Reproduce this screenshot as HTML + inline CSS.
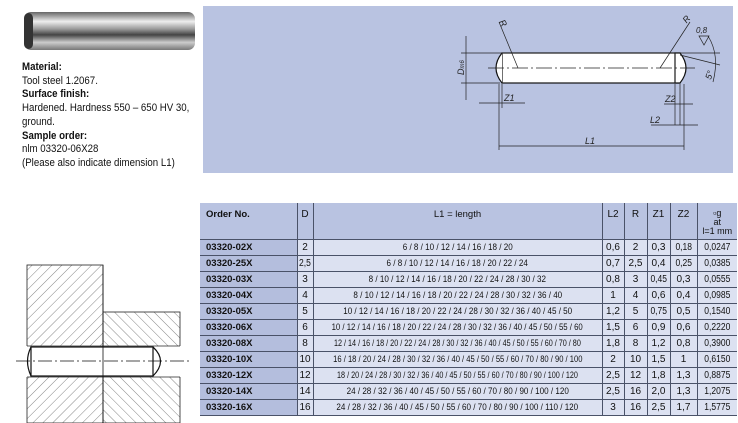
<!DOCTYPE html>
<html><head><meta charset="utf-8"><style>
body{margin:0;width:738px;height:423px;background:#fff;position:relative;overflow:hidden;font-family:"Liberation Sans",sans-serif;}
.txt{position:absolute;left:22px;top:61px;font-size:11px;line-height:13.7px;color:#111;transform:scaleX(.88);transform-origin:0 0;white-space:nowrap;}
.panel{position:absolute;left:203px;top:6px;width:530px;height:167px;background:#b9c3e1;}
table{position:absolute;left:200px;top:203px;width:537px;border-collapse:collapse;font-family:"Liberation Sans",sans-serif;font-size:10px;color:#111;table-layout:fixed;}
td{padding:0;height:15px;border-top:1px solid #4a5268;border-left:1px solid #4a5268;text-align:center;background:#dce1f1;white-space:nowrap;overflow:visible;}
td span{display:inline-block;transform:scaleX(.85);margin:0 -80px;}
td:first-child{border-left:none;background:#b4bedd;text-align:left;padding-left:6px;font-weight:bold;font-size:9.5px;}
td:nth-child(3){font-size:9.5px;}
tr.h td{height:30px;border-top:none;background:#b9c3e1;vertical-align:top;padding-top:6px;}
tr:last-child td{border-bottom:1px solid #4a5268;}
</style></head><body>
<svg style="position:absolute;left:0;top:0" width="738" height="423">
<defs>
<linearGradient id="g" x1="0" y1="0" x2="0" y2="1"><stop offset="0" stop-color="#666"/><stop offset=".25" stop-color="#eee"/><stop offset=".45" stop-color="#999"/><stop offset=".6" stop-color="#444"/><stop offset=".8" stop-color="#ccc"/><stop offset="1" stop-color="#777"/></linearGradient>
<pattern id="h1" width="7" height="7" patternUnits="userSpaceOnUse" patternTransform="rotate(45)"><line x1="0" y1="0" x2="0" y2="7" stroke="#333" stroke-width=".6"/></pattern>
<pattern id="h2" width="7" height="7" patternUnits="userSpaceOnUse" patternTransform="rotate(-45)"><line x1="0" y1="0" x2="0" y2="7" stroke="#333" stroke-width=".6"/></pattern>
</defs>
<rect x="24" y="12" width="171" height="38" rx="7" fill="url(#g)"/>
<rect x="24" y="13" width="9" height="36" rx="5" fill="#333"/>
<rect x="27" y="265" width="76" height="158" fill="url(#h1)" stroke="#222" stroke-width=".8"/>
<rect x="103" y="312" width="77" height="111" fill="url(#h2)" stroke="#222" stroke-width=".8"/>
<rect x="26" y="346" width="155" height="31" fill="#fff"/>
<line x1="27" y1="346" x2="180" y2="346" stroke="#222" stroke-width=".8"/>
<line x1="27" y1="377" x2="180" y2="377" stroke="#222" stroke-width=".8"/>
<rect x="31" y="347" width="122" height="29" fill="none" stroke="#111" stroke-width="1.2"/>
<path d="M31 347 Q24 361 31 376" fill="none" stroke="#111" stroke-width="1.2"/>
<path d="M153 347 Q168 361 153 376" fill="none" stroke="#111" stroke-width="1.2"/>
<line x1="16" y1="361" x2="190" y2="361" stroke="#111" stroke-width=".8" stroke-dasharray="14,3,2,3"/>
<line x1="103" y1="265" x2="103" y2="423" stroke="#111" stroke-width=".8"/>
</svg>
<div class="panel"></div>
<svg style="position:absolute;left:0;top:0" width="738" height="423" font-family="Liberation Sans" font-style="italic" font-size="9" fill="#222">
<g stroke="#222" stroke-width=".7" fill="none">
<rect x="502" y="53" width="178" height="30" fill="#fff" stroke="#111" stroke-width="1.2"/>
<path d="M502 53 Q490 68 502 83" fill="#fff" stroke="#111" stroke-width="1.2"/>
<path d="M675 53 L680 53 Q692 68 680 83 L675 83 Z" fill="#fff" stroke="#111" stroke-width="1.2"/>
<line x1="675" y1="53" x2="675" y2="83"/>
<line x1="488" y1="68" x2="695" y2="68" stroke-dasharray="16,3,2,3"/>
<line x1="461" y1="53" x2="720" y2="53"/>
<line x1="461" y1="83" x2="500" y2="83"/>
<line x1="466" y1="36" x2="466" y2="100"/>
<line x1="499" y1="84" x2="499" y2="150"/>
<line x1="502" y1="84" x2="502" y2="108"/>
<line x1="479" y1="103" x2="525" y2="103"/>
<line x1="675" y1="84" x2="675" y2="125"/>
<line x1="680" y1="84" x2="680" y2="125"/>
<line x1="684" y1="84" x2="684" y2="150"/>
<line x1="664" y1="104" x2="693" y2="104"/>
<line x1="651" y1="125" x2="698" y2="125"/>
<line x1="499" y1="146" x2="684" y2="146"/>
<line x1="499" y1="22" x2="518" y2="68"/>
<line x1="690" y1="22" x2="660" y2="68"/>
<line x1="680" y1="55" x2="720" y2="65"/>
<path d="M708 36 Q720 55 713 82"/>
<path d="M699 36 l10 0 l-5 9 z"/>
</g>
<text x="455" y="78" transform="rotate(-90 458 72)">D<tspan font-size="6">m6</tspan></text>
<text x="504" y="101">Z1</text>
<text x="665" y="102">Z2</text>
<text x="650" y="123">L2</text>
<text x="585" y="144">L1</text>
<text x="500" y="26" transform="rotate(60 503 23)">R</text>
<text x="684" y="22" transform="rotate(-50 687 20)">R</text>
<text x="696" y="33" font-size="8">0,8</text>
<text x="705" y="80" transform="rotate(-70 708 76)">5°</text>
</svg>
<div class="txt"><b>Material:</b><br>Tool steel 1.2067.<br><b>Surface finish:</b><br>Hardened. Hardness 550 – 650 HV 30,<br>ground.<br><b>Sample order:</b><br>nlm 03320-06X28<br>(Please also indicate dimension L1)</div>
<table>
<colgroup><col style="width:97px"><col style="width:16px"><col style="width:289px"><col style="width:22px"><col style="width:23px"><col style="width:23px"><col style="width:27px"><col style="width:40px"></colgroup>
<tr class="h"><td>Order No.</td><td>D</td><td>L1 = length</td><td>L2</td><td>R</td><td>Z1</td><td>Z2</td><td style="line-height:9px;font-size:9px">▫g<br>at<br>l=1 mm</td></tr>
<tr><td>03320-02X</td><td>2</td><td><span>6 / 8 / 10 / 12 / 14 / 16 / 18 / 20</span></td><td>0,6</td><td>2</td><td>0,3</td><td><span>0,18</span></td><td><span>0,0247</span></td></tr>
<tr><td>03320-25X</td><td><span>2,5</span></td><td><span>6 / 8 / 10 / 12 / 14 / 16 / 18 / 20 / 22 / 24</span></td><td>0,7</td><td>2,5</td><td>0,4</td><td><span>0,25</span></td><td><span>0,0385</span></td></tr>
<tr><td>03320-03X</td><td>3</td><td><span>8 / 10 / 12 / 14 / 16 / 18 / 20 / 22 / 24 / 28 / 30 / 32</span></td><td>0,8</td><td>3</td><td><span>0,45</span></td><td>0,3</td><td><span>0,0555</span></td></tr>
<tr><td>03320-04X</td><td>4</td><td><span>8 / 10 / 12 / 14 / 16 / 18 / 20 / 22 / 24 / 28 / 30 / 32 / 36 / 40</span></td><td>1</td><td>4</td><td>0,6</td><td>0,4</td><td><span>0,0985</span></td></tr>
<tr><td>03320-05X</td><td>5</td><td><span>10 / 12 / 14 / 16 / 18 / 20 / 22 / 24 / 28 / 30 / 32 / 36 / 40 / 45 / 50</span></td><td>1,2</td><td>5</td><td><span>0,75</span></td><td>0,5</td><td><span>0,1540</span></td></tr>
<tr><td>03320-06X</td><td>6</td><td><span style="transform:scaleX(.82)">10 / 12 / 14 / 16 / 18 / 20 / 22 / 24 / 28 / 30 / 32 / 36 / 40 / 45 / 50 / 55 / 60</span></td><td>1,5</td><td>6</td><td>0,9</td><td>0,6</td><td><span>0,2220</span></td></tr>
<tr><td>03320-08X</td><td>8</td><td><span style="transform:scaleX(.76)">12 / 14 / 16 / 18 / 20 / 22 / 24 / 28 / 30 / 32 / 36 / 40 / 45 / 50 / 55 / 60 / 70 / 80</span></td><td>1,8</td><td>8</td><td>1,2</td><td>0,8</td><td><span>0,3900</span></td></tr>
<tr><td>03320-10X</td><td>10</td><td><span style="transform:scaleX(.8)">16 / 18 / 20 / 24 / 28 / 30 / 32 / 36 / 40 / 45 / 50 / 55 / 60 / 70 / 80 / 90 / 100</span></td><td>2</td><td>10</td><td>1,5</td><td>1</td><td><span>0,6150</span></td></tr>
<tr><td>03320-12X</td><td>12</td><td><span style="transform:scaleX(.76)">18 / 20 / 24 / 28 / 30 / 32 / 36 / 40 / 45 / 50 / 55 / 60 / 70 / 80 / 90 / 100 / 120</span></td><td>2,5</td><td>12</td><td>1,8</td><td>1,3</td><td><span>0,8875</span></td></tr>
<tr><td>03320-14X</td><td>14</td><td><span>24 / 28 / 32 / 36 / 40 / 45 / 50 / 55 / 60 / 70 / 80 / 90 / 100 / 120</span></td><td>2,5</td><td>16</td><td>2,0</td><td>1,3</td><td><span>1,2075</span></td></tr>
<tr><td>03320-16X</td><td>16</td><td><span>24 / 28 / 32 / 36 / 40 / 45 / 50 / 55 / 60 / 70 / 80 / 90 / 100 / 110 / 120</span></td><td>3</td><td>16</td><td>2,5</td><td>1,7</td><td><span>1,5775</span></td></tr>
</table>
</body></html>
